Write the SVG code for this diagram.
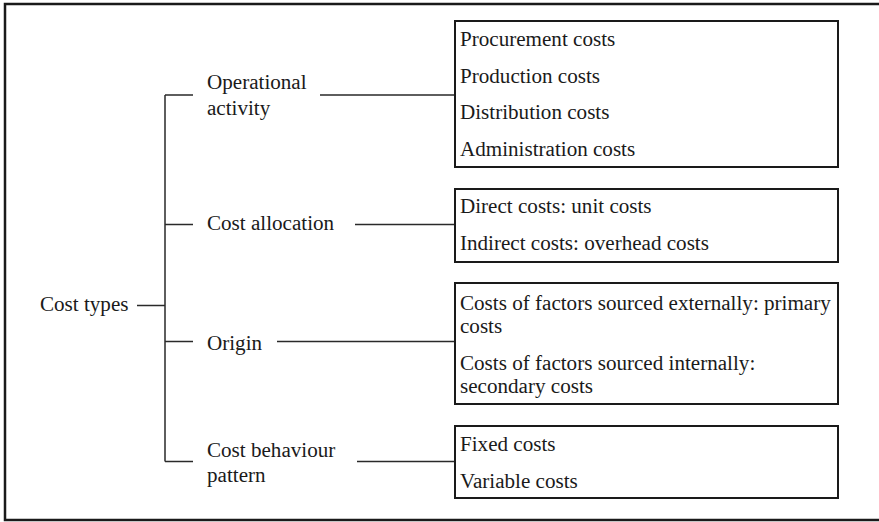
<svg xmlns="http://www.w3.org/2000/svg" width="879" height="522" viewBox="0 0 879 522">
<style>
.t{font-family:"Liberation Serif","Times New Roman",serif;font-size:21.1px;fill:#1a1a1a}
.ln{stroke:#2a2a2a;stroke-width:1.5;fill:none}
.box{stroke:#1a1a1a;stroke-width:2;fill:#fff}
.frame{stroke:#1a1a1a;stroke-width:2.5;fill:none}
</style>
<rect width="879" height="522" fill="#fff"/>
<path class="frame" d="M882 4 H5 V520 H882"/>
<g id="connectors">
<path class="ln" d="M137 305.5 H165 M165 95 V461.5 M165 95 H193 M165 224.5 H193 M165 341.5 H193 M165 461.5 H193"/>
<path class="ln" d="M320 95 H455 M355 224.5 H455 M277 341.5 H455 M357 461.5 H455"/>
</g>
<g id="root"><text class="t" x="40" y="310.5">Cost types</text></g>
<g id="operational"><text class="t" x="207" y="88.5">Operational</text><text class="t" x="207" y="115">activity</text></g>
<g id="allocation"><text class="t" x="207" y="229.5">Cost allocation</text></g>
<g id="origin"><text class="t" x="207" y="349.5">Origin</text></g>
<g id="behaviour"><text class="t" x="207" y="457">Cost behaviour</text><text class="t" x="207" y="482">pattern</text></g>
<g id="box-operational">
<rect class="box" x="455" y="21" width="383" height="146"/>
<text class="t" x="460" y="46">Procurement costs</text>
<text class="t" x="460" y="82.7">Production costs</text>
<text class="t" x="460" y="119.3">Distribution costs</text>
<text class="t" x="460" y="156">Administration costs</text>
</g>
<g id="box-allocation">
<rect class="box" x="455" y="189" width="383" height="73"/>
<text class="t" x="460" y="213.3">Direct costs: unit costs</text>
<text class="t" x="460" y="250">Indirect costs: overhead costs</text>
</g>
<g id="box-origin">
<rect class="box" x="455" y="283" width="383" height="121"/>
<text class="t" x="460" y="310">Costs of factors sourced externally: primary</text>
<text class="t" x="460" y="332.7">costs</text>
<text class="t" x="460" y="370">Costs of factors sourced internally:</text>
<text class="t" x="460" y="392.7">secondary costs</text>
</g>
<g id="box-behaviour">
<rect class="box" x="455" y="426" width="383" height="72"/>
<text class="t" x="460" y="451">Fixed costs</text>
<text class="t" x="460" y="487.7">Variable costs</text>
</g>
</svg>
